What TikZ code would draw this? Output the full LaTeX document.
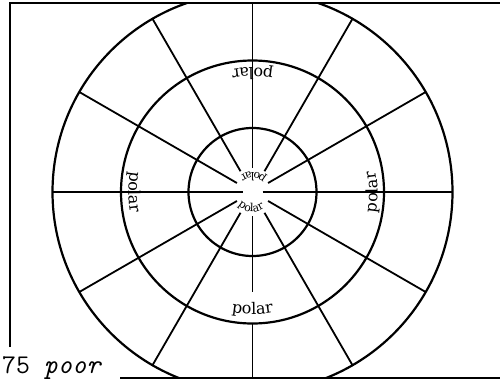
\documentclass[tikz,border=0pt]{standalone}
\usepackage{fontspec}
\newfontfamily\polarfont{DejaVu Serif}
% place the word "polar" letter by letter along the inside of a circle round (C)
% #1 name prefix, #2 centre angle, #3 baseline radius, #4 font size (pt)
\newcommand{\arcword}[4]{%
  \foreach \ch/\s [count=\i] in {p/-0.998,o/-0.376,l/0.085,a/0.543,r/1.080}{%
    \pgfmathsetmacro{\angl}{#2+\s*#4/#3*57.2958}%
    \pgfmathsetmacro{\rotv}{\angl+90}%
    \path (C) ++(\angl:#3) node[letter, font=\polarfont\fontsize{#4}{#4}\selectfont, rotate=\rotv] (#1-\i) {\ch};
  }}
\begin{document}
\begin{tikzpicture}[x=1pt,y=1pt,
  ring/.style={line width=2.2pt},
  spoke/.style={line width=1.8pt},
  frameline/.style={line width=1.9pt},
  letter/.style={inner sep=0pt, anchor=base}]
\useasboundingbox (0,0) rectangle (500,384);
\coordinate (C) at (252.5,192);
\coordinate (TL) at (10,381);
\coordinate (TR) at (500,381);
\coordinate (LB) at (10,37);
\coordinate (BL) at (120,6);
\coordinate (BR) at (500,6);
% frame
\draw[frameline] (LB) -- (TL) -- (TR);
\draw[frameline] (BL) -- (BR);
\begin{scope}
\clip (0,6) rectangle (500,381);
\draw[ring] (C) circle[radius=200];
\draw[ring] (C) circle[radius=131.5];
\draw[ring] (C) circle[radius=64];
% spokes
\foreach \a in {0,180} \draw[spoke] (C) ++(\a:10) -- ++(\a:190);
\foreach \a in {30,150,210,330} \draw[spoke] (C) ++(\a:18) -- ++(\a:182);
\foreach \a in {60,120,240,300} \draw[spoke] (C) ++(\a:24) -- ++(\a:176);
\draw[spoke] (C) ++(90:24) -- ++(90:176);
\draw[spoke] (C) ++(270:24) -- ++(270:76);
\draw[spoke] (C) ++(270:131) -- ++(270:69);
\end{scope}
% labels on middle ring
\arcword{pb}{270}{122}{16}
\arcword{pt}{90}{124}{16}
\arcword{pl}{180}{124}{16}
\arcword{pr}{0}{125}{16}
% labels at centre
\arcword{cu}{87}{20}{11}
\arcword{cd}{265}{20}{11}
% bottom left text
\node[anchor=base west, inner sep=0pt, font=\ttfamily\fontsize{27}{27}\selectfont] (lbl) at (2,11) {75 \textit{poor}};
\end{tikzpicture}
\end{document}
